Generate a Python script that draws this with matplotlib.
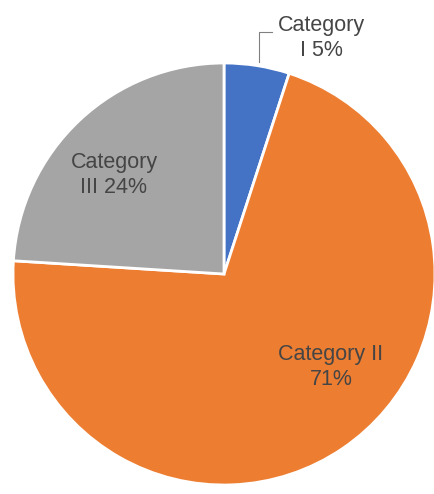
import matplotlib
matplotlib.use('Agg')
import matplotlib.pyplot as plt

categories = ['Category I', 'Category II', 'Category III']
shares = [5, 71, 24]
colors = ['#4472C4', '#ED7D31', '#A5A5A5']
labels = ['Category\nI 5%', 'Category II\n71%', 'Category\nIII 24%']

W, H = 434, 494
fig = plt.figure(figsize=(W / 100, H / 100), dpi=100)
ax = fig.add_axes([0, 0, 1, 1])

cx, cy, r = 224, H - 274, 211
ax.pie(shares, colors=colors, startangle=90, counterclock=False,
       center=(cx, cy), radius=r, frame=True,
       wedgeprops=dict(edgecolor='white', linewidth=2))
ax.set_xlim(0, W)
ax.set_ylim(0, H)
ax.set_aspect('equal')
ax.axis('off')

txt = dict(ha='center', va='center', fontsize=15.5, color='#454545',
           family='Liberation Sans', linespacing=1.2)
pos = [(321, H - 38), (331, H - 367), (114, H - 175)]
for lab, (x, y) in zip(labels, pos):
    ax.text(x, y, lab, **txt)

# leader line for the small slice
ax.plot([259, 259, 272], [H - 62, H - 32, H - 32], color='#808080', lw=0.8)

fig.savefig('out.png', dpi=100)
